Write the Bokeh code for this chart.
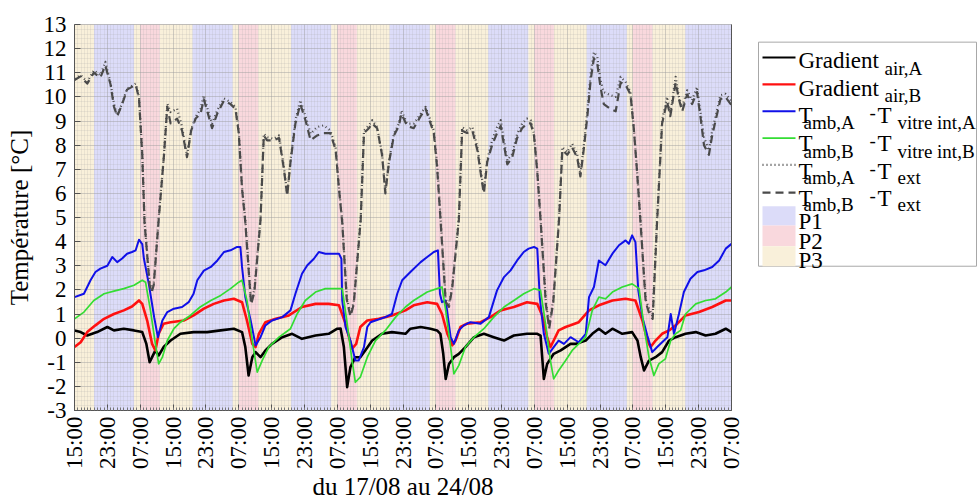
import math
import numpy as np
from bokeh.plotting import figure
from bokeh.models import Range1d, FixedTicker, LinearAxis
from bokeh.layouts import row
from bokeh.embed import file_html
from bokeh.resources import INLINE
from bokeh.core.properties import value

# ---------------- data (hours since 17/08 15:00) ----------------
tick_hours = list(range(0, 161, 8))
tick_labels = ["15:00", "23:00", "07:00"] * 7
y_ticks = list(range(-3, 14))

p1_start = [4.75, 28.75, 52.75, 76.75, 100.75, 124.75, 148.75]
p1_end = [14.5, 38.5, 62.5, 86.5, 110.5, 134.5, 160]
p2_start = [16, 40, 64, 88, 112, 136]
p2_end = [20.75, 44.75, 68.75, 92.75, 116.75, 140.75]
p3_start = [0, 14.5, 20.75, 38.5, 44.75, 62.5, 68.75, 86.5, 92.75, 110.5, 116.75, 134.5, 140.75]
p3_end = [4.75, 16, 28.75, 40, 52.75, 64, 76.75, 88, 100.75, 112, 124.75, 136, 148.75]

gradient_air_A = [
    (0, 0.32), (1.5, 0.25), (3.1, 0.11), (5.5, 0.25), (8, 0.46), (9.6, 0.32), (12, 0.39), (14.5, 0.32),
    (16.5, 0.25), (17.5, -0.24), (18.3, -1.0), (18.9, -0.79), (19.7, -0.51), (20.5, -0.72), (21.7, -0.37),
    (23.4, -0.1), (25.8, 0.18), (29, 0.25), (32.3, 0.25), (35.6, 0.32), (38.8, 0.39), (40.8, 0.25),
    (41.6, -0.37), (42.4, -1.55), (43.3, -0.79), (44.1, -0.58), (45.3, -0.79), (46.5, -0.51), (48.1, -0.24),
    (50.6, 0.04), (53, 0.18), (55.4, -0.03), (58.7, 0.11), (61.9, 0.18), (64, 0.39), (64.8, 0.4),
    (65.6, -0.37), (66.4, -2.03), (67.2, -1.2), (68.4, -0.79), (69.6, -0.79), (70.8, -0.51), (72.5, -0.1),
    (74.9, 0.18), (77.3, 0.25), (80.6, 0.18), (81.8, 0.39), (84.3, 0.46), (86.7, 0.39), (88.3, 0.32),
    (89.1, 0.18), (89.8, -0.65), (90.4, -1.69), (91.2, -1.07), (92.4, -0.79), (93.6, -0.65), (95.2, -0.37),
    (97.3, 0.04), (99.7, 0.18), (102.1, 0.04), (104.6, -0.1), (107, 0.11), (110.2, 0.18), (112.7, 0.18),
    (113.5, 0.1), (114.3, -1.69), (115.1, -1.07), (116.7, -0.65), (118.4, -0.51), (120.8, -0.24),
    (122, -0.24), (124.5, -0.1), (126.1, 0.18), (127.7, 0.39), (129.3, 0.18), (131, 0.39), (133.4, 0.18),
    (135.8, 0.25), (137.1, -0.1), (137.9, -0.79), (138.7, -1.34), (139.9, -0.93), (141.5, -0.79),
    (143.1, -0.58), (144.8, -0.1), (146.4, 0.04), (148.8, 0.18), (151.3, 0.25), (153.7, 0.11),
    (156.1, 0.18), (158.6, 0.39), (160, 0.25),
]

gradient_air_B = [
    (0, -0.37), (1.5, -0.17), (3.1, 0.25), (5.1, 0.53), (7.2, 0.8), (9.6, 1.0), (12, 1.15), (14, 1.31),
    (15.7, 1.56), (16.5, 1.42), (17.7, 0.73), (18.9, -0.24), (19.7, -0.51), (20.5, 0.18), (21.7, 0.6),
    (23.4, 0.66), (26.6, 0.73), (29, 0.94), (31.5, 1.22), (33.9, 1.42), (36.4, 1.56), (38.8, 1.63),
    (40.8, 1.49), (42, 0.73), (43.3, -0.24), (44.1, -0.37), (44.9, 0.18), (46.5, 0.66), (49, 0.8),
    (52.2, 0.94), (55.4, 1.29), (58.7, 1.42), (61.9, 1.42), (64.4, 1.36), (66, 0.6), (67.6, -0.44),
    (68.6, -0.24), (69.6, 0.46), (71.3, 0.73), (74.1, 0.8), (77.3, 0.94), (80.6, 1.15), (82.6, 1.36),
    (85.9, 1.49), (88.3, 1.42), (89.5, 1.0), (90.8, 0.18), (92, -0.3), (92.8, -0.1), (94, 0.46),
    (95.6, 0.6), (98.9, 0.66), (101.3, 0.87), (103.8, 1.15), (107, 1.29), (110.2, 1.49), (112.7, 1.42),
    (113.9, 0.94), (115.1, 0.04), (115.9, -0.37), (116.7, -0.1), (117.9, 0.32), (119.6, 0.46),
    (120.8, 0.53), (122.8, 0.66), (125.3, 1.15), (127.7, 1.36), (131, 1.56), (134.2, 1.63), (136.6, 1.56),
    (138.3, 0.73), (139.5, -0.1), (140.3, -0.37), (141.5, -0.1), (143.1, 0.18), (144.8, 0.32),
    (146.4, 0.53), (148.8, 0.94), (152.1, 1.08), (155.3, 1.29), (158.6, 1.56), (160, 1.56),
]

dT_vitre_A = [
    (0, 1.7), (2.3, 1.84), (3.9, 2.4), (5.1, 2.74), (6.3, 2.88), (8, 3.0), (9.2, 3.36), (10.4, 3.15),
    (11.6, 3.3), (12.8, 3.5), (14, 3.57), (14.9, 3.64), (15.7, 4.08), (16.5, 3.9), (16.9, 3.3),
    (18.1, 2.25), (19.4, 0.87), (20.3, 0.04), (21.4, 0.73), (22.6, 1.08), (24.2, 1.22), (26.2, 1.29),
    (27.8, 1.49), (29, 1.84), (29.9, 2.4), (31.5, 2.8), (33.2, 2.95), (34.8, 3.22), (36.4, 3.57),
    (38, 3.64), (39.6, 3.78), (40.4, 3.78), (40.8, 2.95), (41.6, 1.7), (42.9, 0.73), (44.1, -0.3),
    (45.3, 0.04), (46.5, 0.53), (48.1, 0.73), (50.6, 0.87), (52.6, 1.15), (53.8, 1.84), (55.4, 2.67),
    (56.7, 3.02), (58.3, 3.29), (59.5, 3.57), (61.1, 3.5), (62.7, 3.5), (64.4, 3.5), (65, 3.29),
    (65.2, 1.56), (66, 0.46), (67.2, -0.1), (68.4, -0.93), (69.2, -0.93), (70.5, -0.37), (71.3, 0.46),
    (72.1, 0.66), (73.3, 0.73), (75.7, 0.87), (77.3, 1.0), (78.6, 1.84), (79.8, 2.4), (81.8, 2.74),
    (84.3, 3.15), (85.9, 3.36), (87.5, 3.57), (88.5, 3.64), (89, 1.84), (89.5, 1.49), (90.4, 1.56),
    (91.6, 0.04), (92.4, -0.24), (93.6, 0.32), (94.8, 0.53), (96.4, 0.66), (98.9, 0.6), (100.9, 0.87),
    (102.9, 1.98), (104.6, 2.53), (106.2, 2.81), (107.8, 3.22), (109.4, 3.57), (110.6, 3.71),
    (111.9, 3.78), (112.7, 3.71), (113.3, 1.7), (114.3, 0.18), (115.5, -0.65), (116.7, -0.37),
    (117.9, -0.1), (119.2, -0.24), (120.8, 0.04), (122.8, -0.17), (124.5, 0.18), (125.3, 1.7),
    (126.5, 2.12), (127.7, 3.22), (129.3, 3.02), (131, 3.5), (132.6, 3.85), (134.2, 4.05), (135, 3.91),
    (135.8, 4.26), (136.6, 3.98), (137.3, 1.98), (138.3, 0.87), (139.5, 0.11), (140.7, -0.58),
    (141.9, -0.37), (143.1, -0.17), (144.4, 0.04), (145.2, 1.0), (146, 0.18), (147.2, 1.0), (148.4, 1.91),
    (150, 2.46), (151.7, 2.74), (153.3, 2.81), (155.3, 2.95), (157, 3.22), (158.6, 3.71), (160, 3.91),
]

dT_vitre_B = [
    (0, 0.8), (2.3, 1.08), (4.7, 1.56), (7.2, 1.84), (9.6, 1.95), (12, 2.05), (14.5, 2.19), (16.5, 2.4),
    (17.3, 2.32), (18.5, 1.15), (19.7, -0.24), (20.5, -1.07), (21.4, -0.79), (22.6, -0.1), (24.2, 0.39),
    (25.8, 0.66), (28.2, 0.94), (30.6, 1.29), (33.2, 1.56), (35.6, 1.77), (38, 2.05), (40, 2.32),
    (40.8, 2.4), (42, 1.56), (43.3, -0.1), (44.5, -1.41), (45.7, -0.93), (47.3, -0.37), (49.8, 0.04),
    (52.6, 0.39), (54.2, 1.0), (56.2, 1.56), (58.7, 1.91), (61.1, 2.05), (63.6, 2.05), (65.2, 2.05),
    (66.4, 0.6), (67.6, -0.93), (68.4, -1.83), (69.6, -1.62), (71.3, -0.79), (73.3, -0.1), (75.7, 0.32),
    (78.2, 0.87), (80.6, 1.29), (82.6, 1.56), (85.9, 1.91), (88.3, 2.05), (89.5, 2.12), (90.4, 1.15),
    (91.6, -0.37), (92.4, -1.48), (93.6, -1.13), (95.2, -0.37), (97.3, 0.04), (99.7, 0.39), (102.1, 0.87),
    (104.6, 1.29), (107, 1.56), (109.4, 1.84), (111.9, 2.05), (113.5, 1.98), (114.7, 0.6), (115.9, -0.93),
    (116.7, -1.69), (117.9, -1.34), (119.6, -0.93), (121.2, -0.51), (122.8, -0.24), (124.5, 0.04),
    (126.1, 1.15), (127.7, 1.7), (129.3, 1.63), (131, 1.91), (133.4, 2.12), (135.8, 2.25), (137.5, 2.05),
    (138.7, 0.46), (139.9, -0.79), (141.1, -1.55), (142.3, -1.07), (143.9, -0.86), (145.2, -0.1),
    (146.4, 0.18), (147.6, 0.32), (148.8, 1.0), (151.3, 1.42), (153.7, 1.56), (156.1, 1.63), (158.6, 1.91),
    (160, 2.12),
]

dT_ext_A = [
    (0, 10.76), (1.5, 10.9), (3.1, 10.62), (4.7, 11.1), (6.3, 10.9), (7.5, 11.45), (8.8, 10.55), (9.6, 9.72),
    (10.4, 9.24), (11.6, 9.72), (12.8, 10.34), (14.9, 10.55), (15.7, 10.0), (16.5, 7.64), (17.05, 4.88),
    (18.3, 2.3), (18.8, 2.0), (19.3, 2.3), (20.5, 5.0), (21.8, 7.64), (22.6, 9.72), (23.4, 9.37), (25.0, 9.51),
    (26.2, 8.75), (27.4, 7.58), (28.4, 8.64), (29.5, 9.17), (30.7, 9.51), (31.5, 10.07), (32.5, 9.44),
    (33.5, 8.89), (34.75, 9.44), (36.4, 9.93), (38.0, 9.79), (39.2, 9.58), (40.0, 8.61), (40.8, 6.26),
    (41.6, 4.88), (43.0, 1.5), (43.8, 2.0), (45.3, 5.0), (46.1, 8.47), (46.9, 8.33), (48.5, 8.26),
    (49.8, 8.4), (51.0, 7.09), (51.8, 5.98), (52.6, 7.37), (53.8, 9.03), (55.0, 9.86), (56.3, 9.17),
    (57.5, 8.47), (59.1, 8.75), (60.7, 8.82), (62.3, 8.61), (63.6, 7.92), (64.4, 6.26), (65.2, 4.88),
    (66.3, 1.7), (67.2, 1.0), (68.0, 1.5), (69.7, 5.0), (70.5, 8.61), (71.7, 8.82), (72.5, 9.03),
    (73.7, 8.75), (74.9, 7.64), (75.7, 6.12), (76.6, 7.37), (77.8, 8.47), (79.0, 8.89), (79.6, 9.44),
    (81.0, 8.89), (82.6, 8.89), (84.3, 9.3), (85.5, 9.58), (86.7, 9.03), (87.5, 8.61), (88.3, 7.23),
    (89.1, 5.15), (90.4, 1.6), (91.2, 1.4), (92.0, 2.2), (93.6, 5.0), (94.4, 8.75), (95.6, 8.61),
    (96.9, 8.75), (98.1, 7.92), (99.3, 6.54), (99.7, 6.12), (100.5, 7.37), (101.7, 8.2), (102.9, 8.75),
    (103.8, 9.03), (104.6, 8.2), (105.4, 7.37), (106.6, 7.64), (107.8, 8.47), (109.0, 8.89), (110.2, 9.1),
    (111.1, 9.03), (111.9, 8.47), (112.7, 6.95), (113.5, 5.0), (114.8, 1.5), (115.6, 0.5), (116.6, 1.6),
    (118.0, 5.0), (118.8, 7.92), (120.0, 7.71), (121.2, 8.06), (122.4, 7.64), (123.2, 6.81), (124.0, 7.92),
    (124.9, 9.44), (125.7, 10.96), (126.5, 11.86), (127.3, 11.66), (128.1, 10.69), (128.9, 10.2),
    (130.5, 10.07), (131.8, 10.0), (133.0, 10.83), (134.2, 10.62), (135.4, 10.2), (136.2, 8.75),
    (137.0, 6.95), (137.8, 5.0), (139.1, 1.6), (140.0, 1.2), (140.8, 0.9), (141.9, 5.0), (143.1, 9.03),
    (144.3, 10.0), (145.1, 9.3), (146.4, 10.83), (147.2, 10.0), (148.0, 9.58), (149.2, 10.27),
    (150.4, 9.86), (151.6, 10.41), (152.5, 9.3), (153.3, 8.33), (154.5, 7.78), (155.3, 8.61),
    (156.1, 9.17), (157.3, 10.07), (158.5, 10.13), (159.8, 9.86), (160, 9.8),
]

dT_ext_B = [
    (0, 10.7), (1.5, 10.85), (3.1, 10.55), (4.7, 11.0), (6.3, 10.8), (7.5, 11.3), (8.8, 10.5), (9.6, 9.6),
    (10.4, 9.2), (11.6, 9.7), (12.8, 10.3), (14.9, 10.5), (15.7, 9.95), (16.5, 7.6), (17.05, 4.8),
    (18.3, 2.2), (18.8, 1.9), (19.3, 2.2), (20.5, 4.9), (21.8, 7.6), (22.6, 9.6), (23.4, 8.9), (25.0, 9.1),
    (26.2, 8.6), (27.4, 7.5), (28.4, 8.6), (29.5, 9.1), (30.7, 9.3), (31.5, 9.9), (32.5, 9.3),
    (33.5, 8.7), (34.75, 9.3), (36.4, 9.85), (38.0, 9.7), (39.2, 9.5), (40.0, 8.5), (40.8, 6.2),
    (41.6, 4.8), (43.0, 1.4), (43.8, 1.9), (45.3, 4.9), (46.1, 8.4), (46.9, 8.2), (48.5, 8.2),
    (49.8, 8.3), (51.0, 7.0), (51.8, 5.9), (52.6, 7.3), (53.8, 8.9), (55.0, 9.7), (56.3, 9.0),
    (57.5, 8.2), (59.1, 8.4), (60.7, 8.5), (62.3, 8.5), (63.6, 7.8), (64.4, 6.2), (65.2, 4.8),
    (66.3, 1.6), (67.2, 0.9), (68.0, 1.4), (69.7, 4.9), (70.5, 8.5), (71.7, 8.7), (72.5, 8.9),
    (73.7, 8.7), (74.9, 7.6), (75.7, 6.0), (76.6, 7.3), (77.8, 8.4), (79.0, 8.8), (79.6, 9.3),
    (81.0, 8.8), (82.6, 8.7), (84.3, 9.2), (85.5, 9.5), (86.7, 8.9), (87.5, 8.5), (88.3, 7.1),
    (89.1, 5.0), (90.4, 1.5), (91.2, 1.3), (92.0, 2.1), (93.6, 4.9), (94.4, 8.6), (95.6, 8.5),
    (96.9, 8.6), (98.1, 7.8), (99.3, 6.4), (99.7, 6.0), (100.5, 7.3), (101.7, 8.0), (102.9, 8.5),
    (103.8, 8.8), (104.6, 8.0), (105.4, 7.2), (106.6, 7.5), (107.8, 8.3), (109.0, 8.7), (110.2, 8.9),
    (111.1, 8.9), (111.9, 8.4), (112.7, 6.9), (113.5, 4.9), (114.8, 1.4), (115.6, 0.4), (116.6, 1.5),
    (118.0, 4.9), (118.8, 7.8), (120.0, 7.6), (121.2, 7.9), (122.4, 7.5), (123.2, 6.7), (124.0, 7.8),
    (124.9, 9.2), (125.7, 10.7), (126.5, 11.6), (127.3, 11.4), (128.1, 10.4), (128.9, 9.7),
    (130.5, 9.5), (131.8, 9.4), (133.0, 10.6), (134.2, 10.5), (135.4, 10.1), (136.2, 8.7),
    (137.0, 6.9), (137.8, 4.9), (139.1, 1.5), (140.0, 1.0), (140.8, 0.8), (141.9, 4.9), (143.1, 8.9),
    (144.3, 9.8), (145.1, 9.2), (146.4, 10.6), (147.2, 9.9), (148.0, 9.4), (149.2, 10.1),
    (150.4, 9.7), (151.6, 10.2), (152.5, 9.1), (153.3, 8.0), (154.5, 7.6), (155.3, 8.4),
    (156.1, 9.0), (157.3, 9.9), (158.5, 10.0), (159.8, 9.7), (160, 9.7),
]

# ---------------- styles ----------------
FONT = "Liberation Serif"
C_P1, C_P2, C_P3 = "#dcdcf9", "#f9d8dd", "#f9f0da"
series = [
    (gradient_air_A, "#000000", 2.6, "solid"),
    (gradient_air_B, "#ff1010", 2.6, "solid"),
    (dT_vitre_A, "#1010e8", 2.0, "solid"),
    (dT_vitre_B, "#33dd33", 1.7, "solid"),
    (dT_ext_A, "#4a4a4a", 2.2, "1 3"),
    (dT_ext_B, "#4a4a4a", 2.2, "8 5"),
]

Y_MIN, Y_MAX = -3, 13
X_MIN, X_MAX = 0, 160

p = figure(width=748, height=503, x_range=Range1d(X_MIN, X_MAX), y_range=Range1d(Y_MIN, Y_MAX),
           output_backend="svg", toolbar_location=None,
           min_border_left=74, min_border_right=17, min_border_top=24, min_border_bottom=93,
           background_fill_color="white", border_fill_color="white")
p.outline_line_color = "#b0b0b0"

# period bands (below grid)
for starts, ends, col in [(p3_start, p3_end, C_P3), (p1_start, p1_end, C_P1), (p2_start, p2_end, C_P2)]:
    p.quad(left=starts, right=ends, bottom=Y_MIN, top=Y_MAX, fill_color=col, line_color=None, level="image")

minor_x = [float(v) for v in np.arange(0, 160.001, 0.8)]
minor_y = [float(v) for v in np.arange(-3, 13.001, 0.2)]
xt = FixedTicker(ticks=tick_hours, minor_ticks=minor_x)
yt = FixedTicker(ticks=y_ticks, minor_ticks=minor_y)

p.xaxis.ticker = xt
p.yaxis.ticker = yt
p.xgrid.ticker = xt
p.ygrid.ticker = yt
for g in (p.xgrid, p.ygrid):
    g.grid_line_color = "#9a9a9a"
    g.grid_line_alpha = 0.35
    g.minor_grid_line_color = "#a8a8a8"
    g.minor_grid_line_alpha = 0.18

p.xaxis.major_label_overrides = {h: lab for h, lab in zip(tick_hours, tick_labels)}
p.xaxis.major_label_orientation = math.pi / 2
p.yaxis.major_label_overrides = {v: str(v) for v in y_ticks}

for ax in (p.xaxis, p.yaxis):
    ax.axis_line_color = "#555555"
    ax.major_tick_in = 6
    ax.major_tick_out = 0
    ax.minor_tick_in = 3
    ax.minor_tick_out = 0
    ax.major_tick_line_color = "#555555"
    ax.minor_tick_line_color = "#777777"
    ax.major_label_text_font = FONT
    ax.major_label_text_font_size = "23px"
    ax.major_label_text_color = "black"
    ax.axis_label_text_font = FONT
    ax.axis_label_text_font_size = "25px"
    ax.axis_label_text_font_style = "normal"
    ax.axis_label_text_color = "black"
p.yaxis.minor_tick_in = 0
p.xaxis.major_label_standoff = 6
p.yaxis.major_label_standoff = 8
p.xaxis.axis_label = "du 17/08 au 24/08"
p.yaxis.axis_label = "Température [°C]"
p.xaxis.axis_label_standoff = 1
p.yaxis.axis_label_standoff = 8

right_ax = LinearAxis(ticker=FixedTicker(ticks=[]), axis_line_color="#555555",
                      major_tick_in=0, major_tick_out=0, minor_tick_in=0, minor_tick_out=0)
p.add_layout(right_ax, "right")

for data, col, lw, dash in series:
    xs = [d[0] for d in data]
    ys = [d[1] for d in data]
    p.line(xs, ys, line_color=col, line_width=lw, line_dash=dash, line_join="round")

# ---------------- legend (separate panel, page coordinates) ----------------
leg = figure(width=229, height=503, x_range=Range1d(748, 977), y_range=Range1d(503, 0),
             output_backend="svg", toolbar_location=None, x_axis_type=None, y_axis_type=None,
             min_border=0, min_border_left=0, min_border_right=0, min_border_top=0, min_border_bottom=0,
             background_fill_color="white", border_fill_color="white")
leg.outline_line_color = None
leg.grid.visible = False

leg.quad(left=[758], right=[976], top=[23], bottom=[315], fill_color="white", line_color="#a8a8a8", line_width=1)

row_y = [43, 78, 113, 148, 183, 219]
for (data, col, lw, dash), yy in zip(series, row_y):
    leg.line([762, 795], [yy, yy], line_color=col, line_width=min(lw, 2.2), line_dash=dash)

patch_top = [237, 262, 289]
patch_bot = [262, 289, 315]
leg.quad(left=[762] * 3, right=[795] * 3, top=patch_top, bottom=patch_bot,
         fill_color=[C_P1, C_P2, C_P3], line_color=None)

main_x = [798, 798, 798, 798, 798, 798, 798, 798, 798]
main_y = [47, 83, 118, 155, 192, 227, 257, 283, 308]
main_t = ["Gradient", "Gradient", "T", "T", "T", "T", "P1", "P2", "P3"]
leg.text(x=main_x, y=main_y, text=main_t, text_font=value(FONT), text_font_size="23px",
         text_baseline="alphabetic", text_align="left", text_color="black")

sub_x = [884, 884, 803, 803, 803, 803]
sub_y = [57, 92, 128, 165, 200, 235]
sub_t = ["air,A", "air,B", "amb,A", "amb,B", "amb,A", "amb,B"]
leg.text(x=sub_x, y=sub_y, text=sub_t, text_font=value(FONT), text_font_size="19px",
         text_baseline="alphabetic", text_align="left", text_color="black")

hy_y = [115, 151, 188, 223]
leg.text(x=[869] * 4, y=hy_y, text=["-"] * 4, text_font=value(FONT), text_font_size="19px",
         text_baseline="alphabetic", text_align="left", text_color="black")
leg.text(x=[877] * 4, y=[118, 155, 192, 227], text=["T"] * 4, text_font=value(FONT), text_font_size="23px",
         text_baseline="alphabetic", text_align="left", text_color="black")
leg.text(x=[897] * 4, y=[128, 165, 200, 235], text=["vitre int,A", "vitre int,B", "ext", "ext"],
         text_font=value(FONT), text_font_size="19px",
         text_baseline="alphabetic", text_align="left", text_color="black")

layout = row(p, leg, spacing=0)
open("out.html", "w").write(file_html(layout, INLINE))
